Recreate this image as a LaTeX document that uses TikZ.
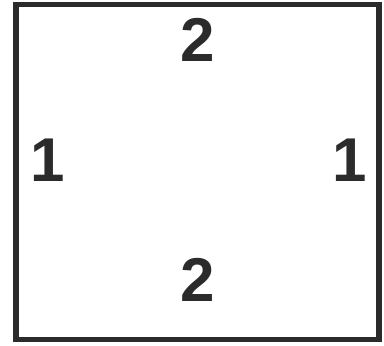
\documentclass[tikz,border=0pt]{standalone}
\usepackage{fontspec}
\setsansfont{Liberation Sans}
\usepackage{tikz}
\usetikzlibrary{positioning}
\definecolor{SqInk}{HTML}{2B2B2B}
\tikzset{
  sqframe/.style={draw=SqInk, line width=4pt, fill=white},
  sqdigit/.style={font=\sffamily\bfseries\fontsize{44}{44}\selectfont, text=SqInk, inner sep=0pt}
}
\begin{document}
\begin{tikzpicture}[x=0.025cm, y=-0.025cm]
\useasboundingbox (0,0) rectangle (384,345);
\path[sqframe] (16,4.5) rectangle (379,339.5);
\node[sqdigit] (top) at (198,40) {2};
\node[sqdigit] (bottom) at (198,280) {2};
\node[sqdigit] (left) at (48,160) {1};
\node[sqdigit] (right) at (350,160) {1};
\end{tikzpicture}
\end{document}
